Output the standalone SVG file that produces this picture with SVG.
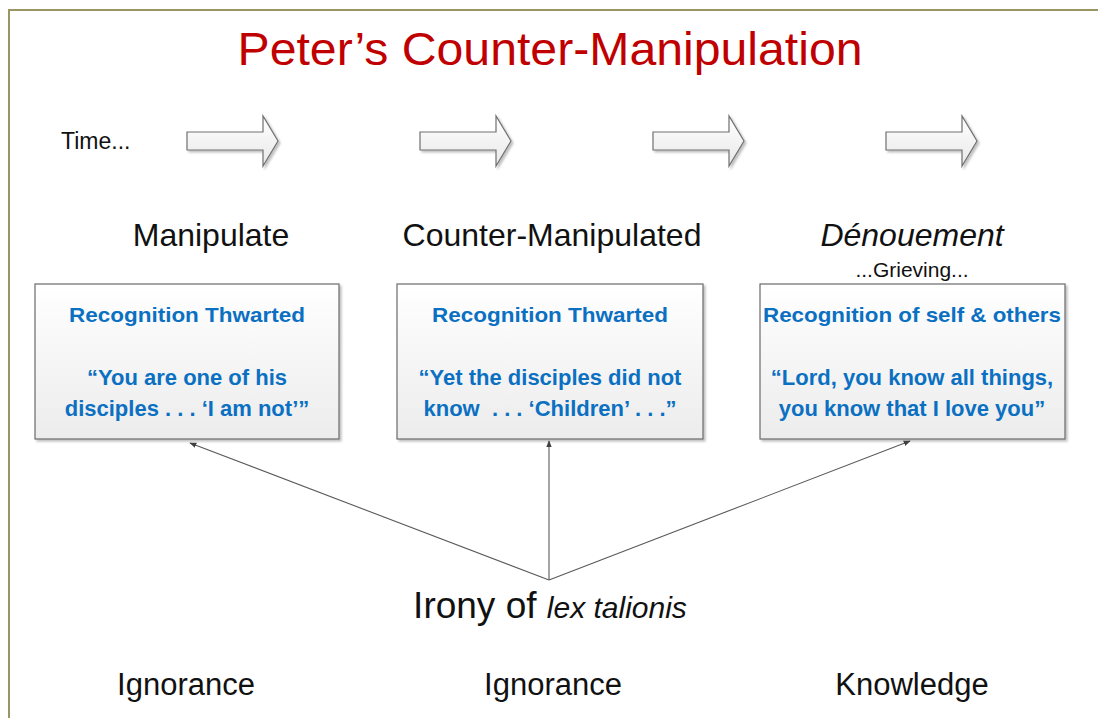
<svg xmlns="http://www.w3.org/2000/svg" width="1098" height="718" viewBox="0 0 1098 718">
<style>
.lbl{font-family:"Liberation Sans",Arial,sans-serif;fill:#111;}
.bx{font-family:"Liberation Sans",Arial,sans-serif;font-weight:bold;font-size:21px;fill:#0B70C2;text-anchor:middle;}
.q{font-size:22px;}
.box{fill:url(#gBox);stroke:#6a6a6a;stroke-width:1.2;filter:url(#sh);}
.blk{fill:url(#gArr);stroke:#707070;stroke-width:1.2;filter:url(#sh);}
.conn{stroke:#5a5a5a;stroke-width:1.1;fill:none;marker-end:url(#ah);}
</style>
<defs>
<linearGradient id="gBox" x1="0" y1="0" x2="0" y2="1">
<stop offset="0" stop-color="#ffffff"/><stop offset="1" stop-color="#ececec"/>
</linearGradient>
<linearGradient id="gArr" x1="0" y1="0" x2="0" y2="1">
<stop offset="0" stop-color="#ffffff"/><stop offset="1" stop-color="#e8e8e8"/>
</linearGradient>
<filter id="sh" x="-10%" y="-10%" width="130%" height="130%">
<feDropShadow dx="2" dy="2" stdDeviation="1.2" flood-color="#000" flood-opacity="0.25"/>
</filter>
<marker id="ah" viewBox="0 0 10 10" refX="9" refY="5" markerWidth="7" markerHeight="7" orient="auto" markerUnits="userSpaceOnUse">
<path d="M0,1 L10,5 L0,9 z" fill="#404040"/>
</marker>
</defs>
<rect width="1098" height="718" fill="#ffffff"/>
<rect x="9" y="10" width="1110" height="730" fill="none" stroke="#9b9564" stroke-width="2"/>

<g id="title">
<text x="550" y="65" font-family="'Liberation Sans',Arial,sans-serif" font-size="47" fill="#C00000" text-anchor="middle" textLength="625" lengthAdjust="spacingAndGlyphs">Peter’s Counter-Manipulation</text>
</g>

<g id="time">
<text class="lbl" x="61" y="149" font-size="23">Time...</text>
<path class="blk" d="M187,132 H263 V116 L278,141 L263,166 V150 H187 Z"/>
<path class="blk" d="M420,132 H496 V116 L511,141 L496,166 V150 H420 Z"/>
<path class="blk" d="M653,132 H729 V116 L744,141 L729,166 V150 H653 Z"/>
<path class="blk" d="M886,132 H962 V116 L977,141 L962,166 V150 H886 Z"/>
</g>

<g id="stage-labels">
<text class="lbl" x="211" y="246" font-size="32" text-anchor="middle">Manipulate</text>
<text class="lbl" x="552" y="246" font-size="32" text-anchor="middle">Counter-Manipulated</text>
<text class="lbl" x="912" y="246" font-size="32" font-style="italic" text-anchor="middle">Dénouement</text>
<text class="lbl" x="912" y="277" font-size="21" text-anchor="middle">...Grieving...</text>
</g>

<g id="box1">
<rect class="box" x="35" y="284" width="304" height="155"/>
<text class="bx" x="187" y="322" textLength="236" lengthAdjust="spacingAndGlyphs">Recognition Thwarted</text>
<text class="bx q" x="187" y="385">“You are one of his</text>
<text class="bx q" x="187" y="416">disciples . . . ‘I am not’”</text>
</g>

<g id="box2">
<rect class="box" x="397" y="284" width="306" height="155"/>
<text class="bx" x="550" y="322" textLength="236" lengthAdjust="spacingAndGlyphs">Recognition Thwarted</text>
<text class="bx q" x="550" y="385">“Yet the disciples did not</text>
<text class="bx q" x="550" y="416" xml:space="preserve">know  . . . ‘Children’ . . .”</text>
</g>

<g id="box3">
<rect class="box" x="760" y="284" width="305" height="155"/>
<text class="bx" x="912" y="322" textLength="298" lengthAdjust="spacingAndGlyphs">Recognition of self &amp; others</text>
<text class="bx q" x="912" y="385">“Lord, you know all things,</text>
<text class="bx q" x="912" y="416">you know that I love you”</text>
</g>

<g id="connectors">
<line class="conn" x1="549" y1="580" x2="190" y2="443"/>
<line class="conn" x1="549" y1="580" x2="549" y2="441"/>
<line class="conn" x1="549" y1="580" x2="910" y2="441"/>
</g>

<g id="irony">
<text class="lbl" x="550" y="618" text-anchor="middle"><tspan font-size="37">Irony of </tspan><tspan font-size="30" font-style="italic">lex talionis</tspan></text>
</g>

<g id="bottom-labels">
<text class="lbl" x="186" y="695" font-size="31" text-anchor="middle">Ignorance</text>
<text class="lbl" x="553" y="695" font-size="31" text-anchor="middle">Ignorance</text>
<text class="lbl" x="912" y="695" font-size="31" text-anchor="middle">Knowledge</text>
</g>
</svg>
